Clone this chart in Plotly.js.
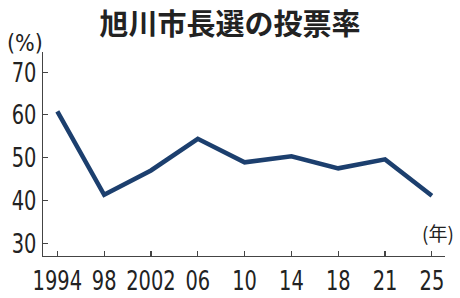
<!DOCTYPE html>
<html>
<head>
<meta charset="utf-8">
<script src="https://cdn.plot.ly/plotly-3.0.1.min.js"></script>
<style>html,body{margin:0;padding:0;background:#fff;}#chart{width:460px;height:298px;}</style>
</head>
<body>
<div id="chart"></div>
<script>
const categories = ["1994", "98", "2002", "06", "10", "14", "18", "21", "25"];
const turnout = [60.8, 41.3, 47.0, 54.4, 48.9, 50.3, 47.5, 49.6, 41.1];
const yTicks = [30, 40, 50, 60, 70];

const numFont = "'Liberation Sans Narrow', 'DejaVu Sans Condensed', sans-serif";
const cjkFont = "'Noto Sans CJK JP', sans-serif";

const trace = {
  x: categories,
  y: turnout,
  type: 'scatter',
  mode: 'lines',
  line: {color: '#1c3f6e', width: 4.5},
  hoverinfo: 'skip'
};

const layout = {
  width: 460,
  height: 298,
  margin: {l: 43, r: 15, t: 52, b: 42},
  paper_bgcolor: '#ffffff',
  plot_bgcolor: '#ffffff',
  showlegend: false,
  title: {
    text: '旭川市長選の投票率',
    x: 0.5, xref: 'container', xanchor: 'center',
    y: 0.915, yref: 'container', yanchor: 'middle',
    font: {family: cjkFont, size: 29, color: '#222222', weight: 700}
  },
  xaxis: {
    type: 'category',
    range: [-0.306, 8.28],
    tickangle: 0,
    showgrid: false, zeroline: false,
    showline: true, linecolor: '#444444', linewidth: 1.2,
    ticks: 'inside', ticklen: 5, tickcolor: '#444444', tickwidth: 1.2,
    tickfont: {family: numFont, size: 27, color: '#222222'},
    fixedrange: true
  },
  yaxis: {
    range: [27, 74.7],
    tickvals: yTicks,
    ticktext: yTicks.map(String),
    showgrid: false, zeroline: false,
    showline: true, linecolor: '#444444', linewidth: 1.2,
    ticks: 'inside', ticklen: 5, tickcolor: '#444444', tickwidth: 1.2,
    tickfont: {family: numFont, size: 27, color: '#222222'},
    fixedrange: true
  },
  annotations: [
    {text: '(%)', xref: 'paper', yref: 'paper', x: -0.045, y: 1.044,
     xanchor: 'center', yanchor: 'middle', showarrow: false,
     font: {family: numFont, size: 23, color: '#222222'}},
    {text: '(年)', xref: 'paper', yref: 'paper', x: 0.983, y: 0.113,
     xanchor: 'center', yanchor: 'middle', showarrow: false,
     font: {family: cjkFont, size: 19, color: '#222222'}}
  ]
};

Plotly.newPlot('chart', [trace], layout, {displayModeBar: false, staticPlot: true}).then(function (gd) {
  // narrow the numeric tick labels to mimic the condensed newspaper face
  gd.querySelectorAll('.xtick text, .ytick text').forEach(function (t) {
    const w = t.getComputedTextLength();
    t.setAttribute('textLength', (w * 0.8).toFixed(1));
    t.setAttribute('lengthAdjust', 'spacingAndGlyphs');
  });
});
</script>
</body>
</html>
